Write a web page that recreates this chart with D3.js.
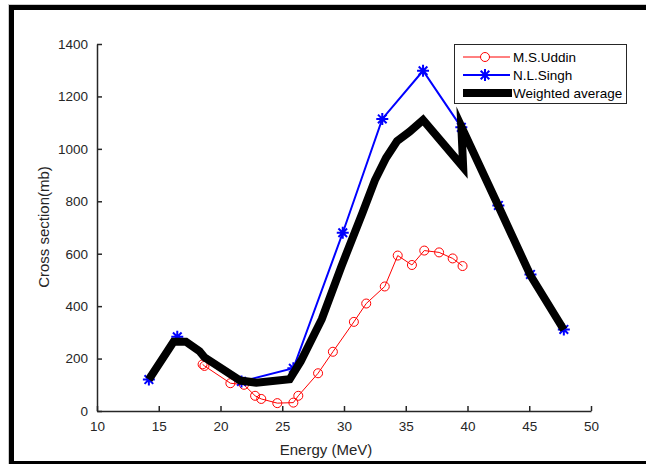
<!DOCTYPE html>
<html>
<head>
<meta charset="utf-8">
<script src="https://cdn.jsdelivr.net/npm/d3@7"></script>
<style>
  body { margin: 0; background: #fff; }
  svg { display: block; font-family: "Liberation Sans", Arial, sans-serif; }
</style>
</head>
<body>
<div class="svg-container"></div>
<script>
// data: [energy (MeV), cross section (mb)]
const uddin = [
    [18.55, 178], [18.7, 172], [20.8, 106], [21.9, 100], [22.8, 58], [23.3, 46],
    [24.6, 30], [25.9, 32], [26.3, 58], [27.9, 144], [29.1, 226], [30.8, 340],
    [31.8, 410], [33.3, 475], [34.35, 593], [35.5, 557], [36.5, 612], [37.7, 605],
    [38.8, 582], [39.6, 553]
];
const singh = [
    [14.2, 120], [16.5, 283], [21.7, 113], [25.9, 163], [29.9, 680], [33.1, 1114],
    [36.4, 1298], [39.5, 1082], [42.5, 784], [45.1, 521], [47.8, 311]
];
const weighted = [
    [14.2, 120], [16.2, 264], [17.2, 264], [18.3, 228], [18.7, 205], [21.6, 116],
    [22.9, 108], [25.6, 121], [26.5, 190], [28.2, 350], [29.8, 553], [31.5, 756],
    [32.5, 880], [33.4, 965], [34.3, 1030], [35.3, 1065], [36.4, 1110], [39.65, 930],
    [39.5, 1085], [42.5, 782], [45.1, 517], [47.8, 310]
];
const xTicks = [10, 15, 20, 25, 30, 35, 40, 45, 50];
const yTicks = [0, 200, 400, 600, 800, 1000, 1200, 1400];
const legendNames = ['M.S.Uddin', 'N.L.Singh', 'Weighted average'];

var W = 646, H = 464,
    margin = {top: 44, right: 55, bottom: 53, left: 97},
    width = W - margin.left - margin.right,
    height = H - margin.top - margin.bottom;

var svg = d3.select('.svg-container').append('svg')
    .attr('width', W).attr('height', H);

// outer frame
svg.append('rect').attr('x', 8).attr('y', 4).attr('width', W).attr('height', 1).attr('fill', '#ccc');
svg.append('rect').attr('x', 8).attr('y', 4).attr('width', 1).attr('height', H).attr('fill', '#ccc');
svg.append('rect').attr('x', 9).attr('y', 5).attr('width', W).attr('height', 5).attr('fill', '#000');
svg.append('rect').attr('x', 9).attr('y', 5).attr('width', 5).attr('height', H).attr('fill', '#000');
svg.append('rect').attr('x', 9).attr('y', 461).attr('width', W).attr('height', 5).attr('fill', '#000');

var xScale = d3.scaleLinear().domain([10, 50]).range([0, width]),
    yScale = d3.scaleLinear().domain([0, 1400]).range([height, 0]);

var g = svg.append('g')
    .attr('transform', 'translate(' + margin.left + ',' + margin.top + ')');

// axes (ticks point inward like matlab)
var xAxis = g.append('g').attr('transform', 'translate(0,' + height + ')')
    .call(d3.axisBottom(xScale).tickValues(xTicks).tickFormat(d3.format('d'))
        .tickSizeInner(-5).tickSizeOuter(0).tickPadding(10));
var yAxis = g.append('g')
    .call(d3.axisLeft(yScale).tickValues(yTicks).tickFormat(d3.format('d'))
        .tickSizeInner(-5).tickSizeOuter(0).tickPadding(9));
[xAxis, yAxis].forEach(function (ax) {
    ax.select('.domain').attr('stroke', '#262626').attr('stroke-width', 1.5);
    ax.selectAll('.tick line').attr('stroke', '#262626').attr('stroke-width', 1.5);
    ax.selectAll('.tick text').attr('fill', '#262626').style('font-size', '13.5px')
        .style('font-family', '"Liberation Sans", Arial, sans-serif');
});

var line = d3.line().x(d => xScale(d[0])).y(d => yScale(d[1]));

// M.S.Uddin
g.append('path').datum(uddin).attr('d', line)
    .attr('fill', 'none').attr('stroke', '#ff0000').attr('stroke-width', 1);
g.selectAll('.uddin').data(uddin).enter().append('circle')
    .attr('class', 'uddin')
    .attr('cx', d => xScale(d[0])).attr('cy', d => yScale(d[1])).attr('r', 4.5)
    .attr('fill', 'none').attr('stroke', '#ff0000').attr('stroke-width', 1);

// N.L.Singh
function star(r) {
    var k = r * 0.72;
    return 'M' + (-r) + ',0L' + r + ',0M0,' + (-r) + 'L0,' + r +
        'M' + (-k) + ',' + (-k) + 'L' + k + ',' + k + 'M' + (-k) + ',' + k + 'L' + k + ',' + (-k);
}
g.append('path').datum(singh).attr('d', line)
    .attr('fill', 'none').attr('stroke', '#0000ff').attr('stroke-width', 2);
g.selectAll('.singh').data(singh).enter().append('path')
    .attr('class', 'singh')
    .attr('transform', d => 'translate(' + xScale(d[0]) + ',' + yScale(d[1]) + ')')
    .attr('d', star(6))
    .attr('fill', 'none').attr('stroke', '#0000ff').attr('stroke-width', 2);

// weighted average
g.append('path').datum(weighted).attr('d', line)
    .attr('fill', 'none').attr('stroke', '#000').attr('stroke-width', 8)
    .attr('stroke-linejoin', 'miter').attr('stroke-miterlimit', 10);

// axis labels
svg.append('text').attr('x', 326).attr('y', 455).attr('text-anchor', 'middle')
    .attr('fill', '#262626').style('font-size', '15px').text('Energy (MeV)');
svg.append('text').attr('transform', 'translate(49,227) rotate(-90)').attr('text-anchor', 'middle')
    .attr('fill', '#262626').style('font-size', '15px').text('Cross section(mb)');

// legend
var leg = svg.append('g');
leg.append('rect').attr('x', 454.5).attr('y', 44.5).attr('width', 172).attr('height', 59)
    .attr('fill', '#fff').attr('stroke', '#262626').attr('stroke-width', 1);
var legY = [57, 75, 93];
leg.append('line').attr('x1', 463).attr('x2', 510).attr('y1', legY[0]).attr('y2', legY[0])
    .attr('stroke', '#ff0000').attr('stroke-width', 1);
leg.append('circle').attr('cx', 485).attr('cy', legY[0]).attr('r', 4.5)
    .attr('fill', '#fff').attr('stroke', '#ff0000');
leg.append('line').attr('x1', 463).attr('x2', 510).attr('y1', legY[1]).attr('y2', legY[1])
    .attr('stroke', '#0000ff').attr('stroke-width', 2);
leg.append('path').attr('transform', 'translate(485,' + legY[1] + ')').attr('d', star(6))
    .attr('fill', 'none').attr('stroke', '#0000ff').attr('stroke-width', 2);
leg.append('line').attr('x1', 463).attr('x2', 512).attr('y1', legY[2]).attr('y2', legY[2])
    .attr('stroke', '#000').attr('stroke-width', 8);
leg.selectAll('.leg-text').data(legendNames).enter().append('text')
    .attr('class', 'leg-text')
    .attr('x', 513).attr('y', (d, i) => legY[i] + 4.5)
    .attr('fill', '#000').style('font-size', '13.5px').text(d => d);
</script>
</body>
</html>
